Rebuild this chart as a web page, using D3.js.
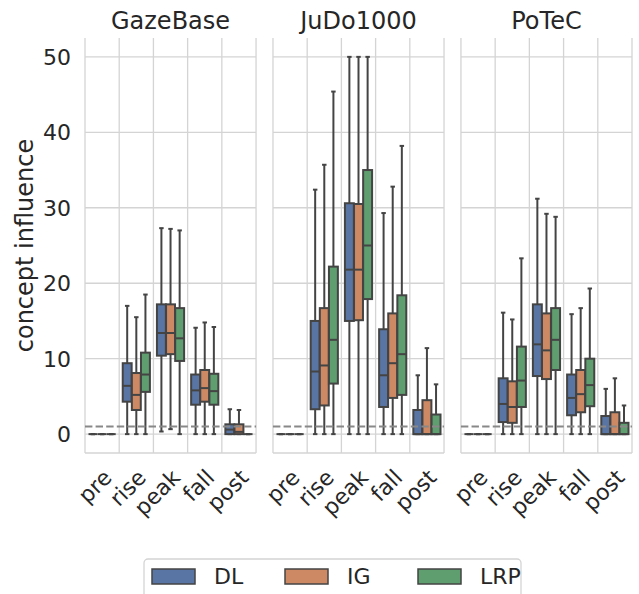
<!DOCTYPE html>
<html>
<head>
<meta charset="utf-8">
<script src="https://cdn.jsdelivr.net/npm/d3@7"></script>
<style>
  body { margin: 0; background: #fff; }
  text { font-family: "DejaVu Sans", sans-serif; fill: #262626; }
</style>
</head>
<body>
<div class="canvas"></div>
<script>
// categories
const datasets = ['GazeBase', 'JuDo1000', 'PoTeC']
const stages = ['pre', 'rise', 'peak', 'fall', 'post']
const methods = ['DL', 'IG', 'LRP']
const yTicks = [0, 10, 20, 30, 40, 50]
const threshold = 1

// box stats per stage: [low whisker, q1, median, q3, high whisker]
const gazeDL  = [[0,0,0,0,0], [0,4.3,6.4,9.4,17.0], [0.35,10.4,13.4,17.2,27.3], [0,3.9,5.8,7.9,14.1], [0,0,0.6,1.3,3.3]]
const gazeIG  = [[0,0,0,0,0], [0,3.2,5.2,8.1,15.5], [0.66,10.6,13.4,17.2,27.2], [0,4.3,6.1,8.5,14.8], [0,0,0.3,1.3,3.2]]
const gazeLRP = [[0,0,0,0,0], [0,5.6,7.9,10.8,18.5], [0,9.7,12.7,16.7,27.0], [0,3.9,5.7,8.0,14.2], [0,0,0,0,0]]

const judoDL  = [[0,0,0,0,0], [0,3.3,8.3,15.0,32.4], [0,15.0,21.8,30.6,50], [0,3.6,7.8,13.9,29.3], [0,0,0,3.2,7.8]]
const judoIG  = [[0,0,0,0,0], [0,3.8,9.1,16.7,35.7], [0,15.1,21.8,30.5,50], [0,4.8,9.4,16.0,32.8], [0,0,0,4.5,11.4]]
const judoLRP = [[0,0,0,0,0], [0,6.7,12.5,22.2,45.4], [0,17.9,25.0,35.0,50], [0,5.2,10.6,18.4,38.2], [0,0,0,2.6,6.6]]

const potecDL  = [[0,0,0,0,0], [0,1.6,4.0,7.4,16.1], [0,7.7,11.9,17.2,31.2], [0,2.5,4.8,7.9,15.9], [0,0,0,2.4,6.0]]
const potecIG  = [[0,0,0,0,0], [0,1.5,3.6,7.0,15.2], [0,7.3,11.1,16.0,29.2], [0,2.9,5.3,8.5,16.7], [0,0,0,2.9,7.4]]
const potecLRP = [[0,0,0,0,0], [0,3.6,7.1,11.6,23.3], [0,8.5,12.5,16.7,28.8], [0,3.7,6.5,10.0,19.3], [0,0,0,1.5,3.8]]

const stats = {
  GazeBase: { DL: gazeDL, IG: gazeIG, LRP: gazeLRP },
  JuDo1000: { DL: judoDL, IG: judoIG, LRP: judoLRP },
  PoTeC: { DL: potecDL, IG: potecIG, LRP: potecLRP }
}

const dims = { width: 639, height: 594 }
const plotTop = 38, plotBottom = 453

const svg = d3.select('.canvas')
              .append('svg')
              .attr('width', dims.width)
              .attr('height', dims.height)

const color = d3.scaleOrdinal(methods, ['#5975a4', '#cc8963', '#5f9e6e'])
const edge = '#444'
const gridColor = '#d4d4d4'

const facet = d3.scaleBand().domain(datasets).range([85, 632]).paddingInner(0.09)
const y = d3.scaleLinear().domain([-2.5, 52.5]).range([plotBottom, plotTop])
const x = d3.scaleBand().domain(stages).range([0, facet.bandwidth()])
const hue = d3.scaleBand().domain(methods).range([x.bandwidth() * 0.1, x.bandwidth() * 0.9])
const boxW = hue.bandwidth() * 0.98

datasets.forEach((ds, i) => {
  const g = svg.append('g').attr('transform', `translate(${facet(ds)}, 0)`)
  const w = facet.bandwidth()

  // grid
  g.selectAll('.hgrid').data(yTicks).enter()
   .append('line')
   .attr('x1', 0).attr('x2', w)
   .attr('y1', d => y(d)).attr('y2', d => y(d))
   .attr('stroke', gridColor).attr('stroke-width', 1.3)

  g.selectAll('.vgrid').data(d3.range(stages.length + 1)).enter()
   .append('line')
   .attr('x1', d => d * x.step()).attr('x2', d => d * x.step())
   .attr('y1', plotTop).attr('y2', plotBottom)
   .attr('stroke', gridColor).attr('stroke-width', 1.3)

  // bottom spine
  g.append('line')
   .attr('x1', 0).attr('x2', w)
   .attr('y1', plotBottom).attr('y2', plotBottom)
   .attr('stroke', gridColor).attr('stroke-width', 1.5)

  // boxes
  const rows = []
  stages.forEach((st, si) => methods.forEach(m => {
    const [lo, q1, med, q3, hi] = stats[ds][m][si]
    rows.push({ st, m, lo, q1, med, q3, hi })
  }))

  const box = g.selectAll('.box').data(rows).enter()
               .append('g')
               .attr('transform', d => `translate(${x(d.st) + hue(d.m) + hue.bandwidth() / 2}, 0)`)

  box.append('line')
     .attr('y1', d => y(d.q3)).attr('y2', d => y(d.hi))
     .attr('stroke', edge).attr('stroke-width', 2)
  box.append('line')
     .attr('y1', d => y(d.q1)).attr('y2', d => y(d.lo))
     .attr('stroke', edge).attr('stroke-width', 2)
  box.append('line')
     .attr('x1', -boxW / 4).attr('x2', boxW / 4)
     .attr('y1', d => y(d.hi)).attr('y2', d => y(d.hi))
     .attr('stroke', edge).attr('stroke-width', 2)
  box.append('line')
     .attr('x1', -boxW / 4).attr('x2', boxW / 4)
     .attr('y1', d => y(d.lo)).attr('y2', d => y(d.lo))
     .attr('stroke', edge).attr('stroke-width', 2)
  box.append('rect')
     .attr('x', -boxW / 2).attr('width', boxW)
     .attr('y', d => y(d.q3))
     .attr('height', d => y(d.q1) - y(d.q3))
     .attr('fill', d => color(d.m))
     .attr('stroke', edge).attr('stroke-width', 2)
  box.append('line')
     .attr('x1', -boxW / 2).attr('x2', boxW / 2)
     .attr('y1', d => y(d.med)).attr('y2', d => y(d.med))
     .attr('stroke', edge).attr('stroke-width', 2)

  // threshold line
  g.append('line')
   .attr('x1', 0).attr('x2', w)
   .attr('y1', y(threshold)).attr('y2', y(threshold))
   .attr('stroke', '#888').attr('stroke-width', 2)
   .attr('stroke-dasharray', '7.4,3.2')

  // title
  g.append('text')
   .attr('x', w / 2).attr('y', 29)
   .attr('text-anchor', 'middle')
   .style('font-size', '24px')
   .text(ds)

  // x tick labels
  g.selectAll('.xlab').data(stages).enter()
   .append('text')
   .attr('text-anchor', 'end')
   .attr('transform', d => `translate(${x(d) + x.bandwidth() / 2 + 11}, 479) rotate(-45)`)
   .style('font-size', '22px')
   .text(d => d)

  // y tick labels on first facet
  if (i === 0) {
    g.selectAll('.ylab').data(yTicks).enter()
     .append('text')
     .attr('x', -14).attr('y', d => y(d))
     .attr('dy', '0.36em')
     .attr('text-anchor', 'end')
     .style('font-size', '22px')
     .text(d => d)
  }
})

// y axis label
svg.append('text')
   .attr('transform', `translate(33, ${(plotTop + plotBottom) / 2}) rotate(-90)`)
   .attr('text-anchor', 'middle')
   .style('font-size', '24px')
   .text('concept influence')

// legend
const legend = svg.append('g')
legend.append('rect')
      .attr('x', 144).attr('y', 559)
      .attr('width', 377).attr('height', 60)
      .attr('rx', 4)
      .attr('fill', '#fff')
      .attr('stroke', '#d4d4d4').attr('stroke-width', 1.3)

const item = legend.selectAll('.item').data(methods).enter()
                   .append('g')
                   .attr('transform', (d, i) => `translate(${152 + i * 133}, 569)`)
item.append('rect')
    .attr('width', 43).attr('height', 15)
    .attr('fill', d => color(d))
    .attr('stroke', edge).attr('stroke-width', 1.5)
item.append('text')
    .attr('x', 62).attr('y', 15)
    .style('font-size', '22px')
    .text(d => d)
</script>
</body>
</html>
